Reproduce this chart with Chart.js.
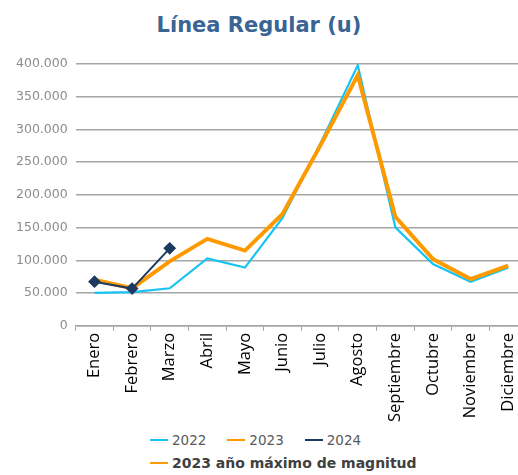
<!DOCTYPE html>
<html>
<head>
<meta charset="utf-8">
<script src="https://cdn.jsdelivr.net/npm/chart.js@4/dist/chart.umd.min.js"></script>
<style>
  html, body { margin: 0; padding: 0; background: #fff; overflow: hidden; width: 518px; height: 475px; }
  #title { position: absolute; left: 0; top: 12px; width: 518px; text-align: center; font-family: "DejaVu Sans", sans-serif; font-weight: bold; font-size: 21px; line-height: 26px; color: #3A6494; }
  #wrap { position: absolute; left: 0; top: 0; width: 534px; height: 424px; }
  .leg { position: absolute; left: 150px; white-space: nowrap; font-family: "DejaVu Sans", sans-serif; color: #595959; font-size: 13.5px; line-height: 18px; }
  .leg .it { display: inline-block; margin-right: 21px; }
  .leg .ln { display: inline-block; width: 18px; height: 2.5px; vertical-align: middle; margin-right: 4px; position: relative; top: -1px; }
  #leg1 { top: 431px; }
  #leg2 { top: 454px; font-weight: bold; font-size: 14px; color: #404040; }
</style>
</head>
<body>
<div id="title">Línea Regular (u)</div>
<div id="wrap"><canvas id="c"></canvas></div>
<div id="leg1" class="leg"></div>
<div id="leg2" class="leg"><span class="it"><span class="ln" style="background:#FF9900"></span>2023 año máximo de magnitud</span></div>
<script>
const months = ["Enero","Febrero","Marzo","Abril","Mayo","Junio","Julio","Agosto","Septiembre","Octubre","Noviembre","Diciembre"];
const v2022 = [50500, 51500, 57500, 103000, 89000, 165000, 278000, 398000, 150500, 94500, 67500, 89000];
const v2023 = [70500, 57500, 98500, 133000, 115000, 171000, 275000, 383000, 166500, 102000, 71500, 92000];
const v2024 = [67500, 57000, 118500];
const yTicks = [0, 50000, 100000, 150000, 200000, 250000, 300000, 350000, 400000];
const seriesNames = ["2022", "2023", "2024"];
const seriesColors = ["#17C3F2", "#FF9900", "#1F3A60"];

const fmt = v => v === 0 ? "0" : String(v).replace(/\B(?=(\d{3})+(?!\d))/g, ".");

const chart = new Chart(document.getElementById("c"), {
  type: "line",
  data: {
    labels: months,
    datasets: [
      { label: seriesNames[0], data: v2022, borderColor: seriesColors[0], backgroundColor: seriesColors[0], borderWidth: 2.2, pointRadius: 0, tension: 0, order: 3 },
      { label: seriesNames[1], data: v2023, borderColor: seriesColors[1], backgroundColor: seriesColors[1], borderWidth: 4, pointRadius: 0, tension: 0, order: 2 },
      { label: seriesNames[2], data: v2024, borderColor: seriesColors[2], backgroundColor: seriesColors[2], borderWidth: 2, pointStyle: "rectRot", pointRadius: 5, pointBackgroundColor: seriesColors[2], pointBorderColor: seriesColors[2], tension: 0, order: 1 }
    ]
  },
  options: {
    responsive: true,
    maintainAspectRatio: false,
    animation: false,
    layout: { padding: { left: 8, right: 0, top: 64, bottom: 0 } },
    plugins: {
      title: { display: false },
      legend: { display: false },
      tooltip: { enabled: false }
    },
    scales: {
      x: {
        offset: true,
        grid: { display: true, drawOnChartArea: false, offset: true, tickLength: 5, color: "#A6A6A6" },
        border: { display: true, color: "#A6A6A6", width: 1.5 },
        ticks: { minRotation: 90, maxRotation: 90, color: "#000", font: { family: "Open Sans", size: 16.5 }, padding: 2 }
      },
      y: {
        min: 0, max: 400000,
        afterBuildTicks: s => { s.ticks = yTicks.map(v => ({ value: v })); },
        grid: { color: "#A6A6A6", lineWidth: 1.5, drawTicks: false },
        border: { display: false },
        ticks: { color: "#8C8C8C", font: { family: "DejaVu Sans", size: 12.5 }, padding: 8, callback: v => fmt(v) }
      }
    }
  }
});

// HTML legend built from the chart's datasets
const leg1 = document.getElementById("leg1");
chart.data.datasets.forEach(ds => {
  const it = document.createElement("span");
  it.className = "it";
  const ln = document.createElement("span");
  ln.className = "ln";
  ln.style.background = ds.borderColor;
  it.appendChild(ln);
  it.appendChild(document.createTextNode(ds.label));
  leg1.appendChild(it);
});
</script>
</body>
</html>
